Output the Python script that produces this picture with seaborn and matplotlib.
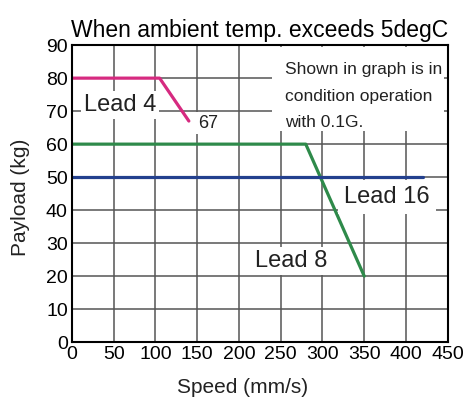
import matplotlib
matplotlib.use("Agg")
import matplotlib.pyplot as plt
import seaborn as sns
import pandas as pd
from matplotlib.patches import Rectangle

# Payload vs. speed curves per screw lead
lead4_speed = [0, 105, 140]
lead4_payload = [80, 80, 67]
lead8_speed = [0, 280, 350]
lead8_payload = [60, 60, 20]
lead16_speed = [0, 420]
lead16_payload = [50, 50]

x_ticks = [0, 50, 100, 150, 200, 250, 300, 350, 400, 450]
y_ticks = [0, 10, 20, 30, 40, 50, 60, 70, 80, 90]

colors = {"Lead 4": "#d62a80", "Lead 8": "#2e8a4a", "Lead 16": "#23408e"}

frames = []
for name, xs, ys in [("Lead 4", lead4_speed, lead4_payload),
                     ("Lead 8", lead8_speed, lead8_payload),
                     ("Lead 16", lead16_speed, lead16_payload)]:
    frames.append(pd.DataFrame({"speed": xs, "payload": ys, "lead": name}))
df = pd.concat(frames, ignore_index=True)

sns.set_theme(style="white")
plt.rcParams["font.family"] = ["Liberation Sans", "DejaVu Sans"]

fig = plt.figure(figsize=(4.64, 4.03), dpi=100)
ax = fig.add_axes([0.155, 0.151, 0.81, 0.737])

ax.set_xlim(0, 450)
ax.set_ylim(0, 90)
ax.set_xticks(x_ticks)
ax.set_yticks(y_ticks)
ax.grid(True, color="#555555", linewidth=1.1, zorder=0)
ax.set_axisbelow(True)

sns.lineplot(data=df, x="speed", y="payload", hue="lead", palette=colors,
             linewidth=2.3, legend=False, ax=ax, sort=False, estimator=None,
             zorder=3)

for sp in ax.spines.values():
    sp.set_color("black")
    sp.set_linewidth(1.5)
    sp.set_zorder(5)

ax.tick_params(axis="both", length=0, pad=3, labelsize=14, colors="black")

ax.set_xlabel("Speed (mm/s)", fontsize=15, color="#222222", va="top")
ax.xaxis.set_label_coords(0.455, -0.122)
ax.set_ylabel("Payload (kg)", fontsize=15, color="#222222")
ax.yaxis.set_label_coords(-0.112, 0.488)
ax.set_title("When ambient temp. exceeds 5degC", fontsize=16.5, color="black", pad=6)

# white note panel in the upper right corner
ax.add_patch(Rectangle((239, 63.9), 207, 25.5, facecolor="white", edgecolor="none",
                       zorder=2.5))
ax.text(255, 74.5, "Shown in graph is in\ncondition operation\nwith 0.1G.",
        fontsize=12.5, color="#222222", va="center", ha="left", linespacing=1.95,
        zorder=4)

box = dict(boxstyle="square,pad=0.12", fc="white", ec="none")
ax.text(14, 71.8, "Lead 4", fontsize=17, color="#222222", va="center", ha="left",
        bbox=box, zorder=4)
ax.text(151, 66.4, "67", fontsize=13, color="#222222", va="center", ha="left",
        bbox=box, zorder=4)
ax.text(377.5, 44, "Lead 16", fontsize=17, color="#222222", va="center", ha="center",
        bbox=dict(boxstyle="square,pad=0.25", fc="white", ec="none"), zorder=4)
ax.text(262, 24.5, "Lead 8", fontsize=17, color="#222222", va="center", ha="center",
        bbox=box, zorder=4)

fig.savefig("out.png", dpi=100)
